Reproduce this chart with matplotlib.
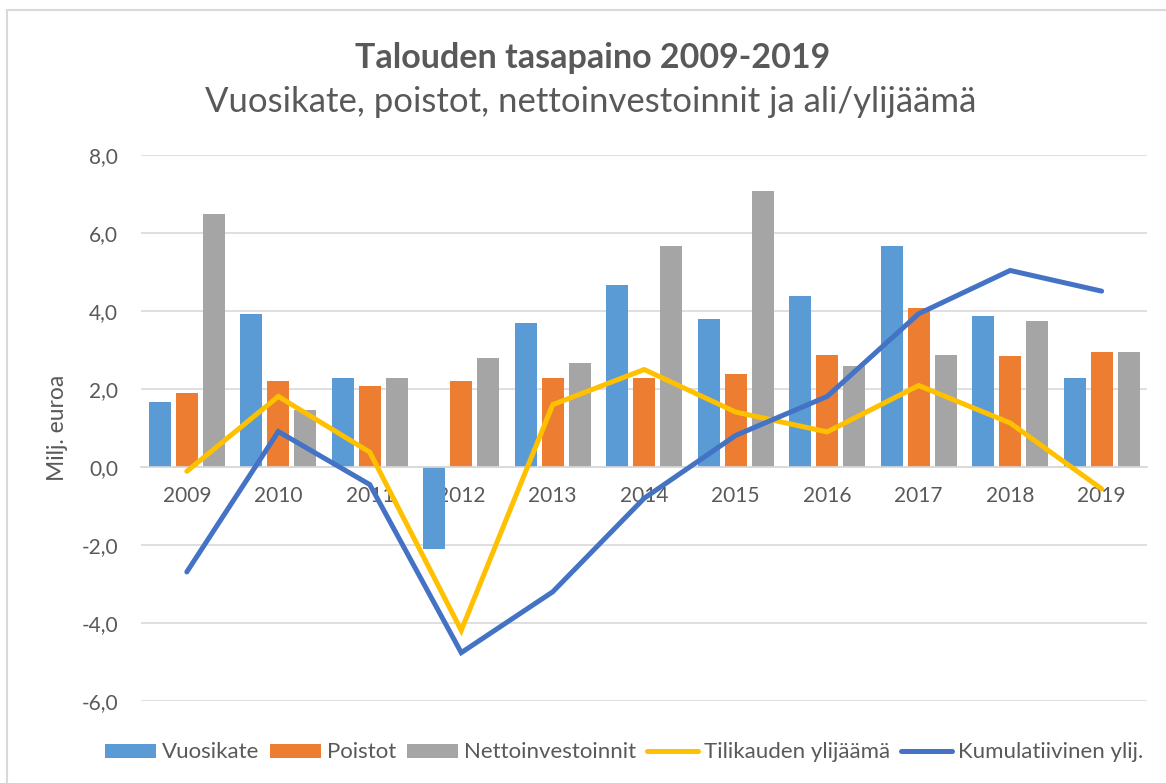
import numpy as np
import matplotlib.pyplot as plt
from matplotlib.patches import Rectangle

years = ["2009", "2010", "2011", "2012", "2013", "2014", "2015", "2016", "2017", "2018", "2019"]
vuosikate = [1.68, 3.93, 2.29, -2.09, 3.69, 4.68, 3.79, 4.38, 5.68, 3.87, 2.28]
poistot = [1.89, 2.21, 2.09, 2.20, 2.29, 2.28, 2.39, 2.88, 4.09, 2.84, 2.94]
nettoinvestoinnit = [6.49, 1.47, 2.29, 2.79, 2.68, 5.68, 7.09, 2.59, 2.88, 3.74, 2.96]
tilikauden_ylijaama = [-0.11, 1.81, 0.38, -4.19, 1.60, 2.50, 1.41, 0.90, 2.09, 1.13, -0.56]
kumulatiivinen = [-2.69, 0.91, -0.45, -4.76, -3.20, -0.80, 0.81, 1.81, 3.93, 5.04, 4.51]

txt = "#595959"
grid = "#D9D9D9"
plt.rcParams["font.family"] = ["Lato", "DejaVu Sans"]

fig = plt.figure(figsize=(11.66, 7.83), dpi=100)
# chart area border
fig.patches.append(Rectangle((0.006, -0.1), 1.2, 1.087, transform=fig.transFigure,
                             fill=False, edgecolor=grid, linewidth=1.5))

ax = fig.add_axes([0.121, 0.1047, 0.863, 0.6973])
x = np.arange(len(years))
w = 0.24
step = 0.295
b1 = ax.bar(x - step, vuosikate, w, color="#5B9BD5", label="Vuosikate", zorder=2)
b2 = ax.bar(x, poistot, w, color="#ED7D31", label="Poistot", zorder=2)
b3 = ax.bar(x + step, nettoinvestoinnit, w, color="#A5A5A5", label="Nettoinvestoinnit", zorder=2)
l1, = ax.plot(x, tilikauden_ylijaama, color="#FFC000", lw=3.6, label="Tilikauden ylijäämä",
              solid_joinstyle="miter", solid_capstyle="round", zorder=5)
l2, = ax.plot(x, kumulatiivinen, color="#4472C4", lw=3.6, label="Kumulatiivinen ylij.",
              solid_joinstyle="miter", solid_capstyle="round", zorder=5)

ax.set_xlim(-0.5, len(years) - 0.5)
ax.set_ylim(-6, 8)
yt = np.arange(-6, 9, 2)
ax.set_yticks(yt)
ax.set_yticklabels([f"{v:.1f}".replace(".", ",") for v in yt])
ax.yaxis.grid(True, color=grid, lw=1.2, zorder=0)
ax.set_xticks(x)
ax.set_xticklabels(years)
for s in ["top", "right", "left"]:
    ax.spines[s].set_visible(False)
ax.spines["bottom"].set_position(("data", 0))
ax.spines["bottom"].set_color(grid)
ax.spines["bottom"].set_linewidth(1.2)
ax.tick_params(axis="both", length=0, colors=txt, labelsize=15)
ax.tick_params(axis="x", pad=14)
ax.tick_params(axis="y", pad=16.5)
ax.set_ylabel("Milj. euroa", color=txt, fontsize=16.5, labelpad=10)

fig.text(0.508, 0.926, "Talouden tasapaino 2009-2019", ha="center", va="center",
         fontsize=24.5, fontweight="bold", color=txt)
fig.text(0.507, 0.870, "Vuosikate, poistot, nettoinvestoinnit ja ali/ylijäämä",
         ha="center", va="center", fontsize=25, color=txt)

leg = fig.legend([b1, b2, b3, l1, l2],
                 ["Vuosikate", "Poistot", "Nettoinvestoinnit", "Tilikauden ylijäämä",
                  "Kumulatiivinen ylij."],
                 loc="center", bbox_to_anchor=(0.535, 0.039), ncol=5, frameon=False,
                 fontsize=16, handlelength=2.3, handleheight=0.6, handletextpad=0.25,
                 columnspacing=0.5, borderpad=0)
for t in leg.get_texts():
    t.set_color(txt)

fig.savefig("out.png", dpi=100)
